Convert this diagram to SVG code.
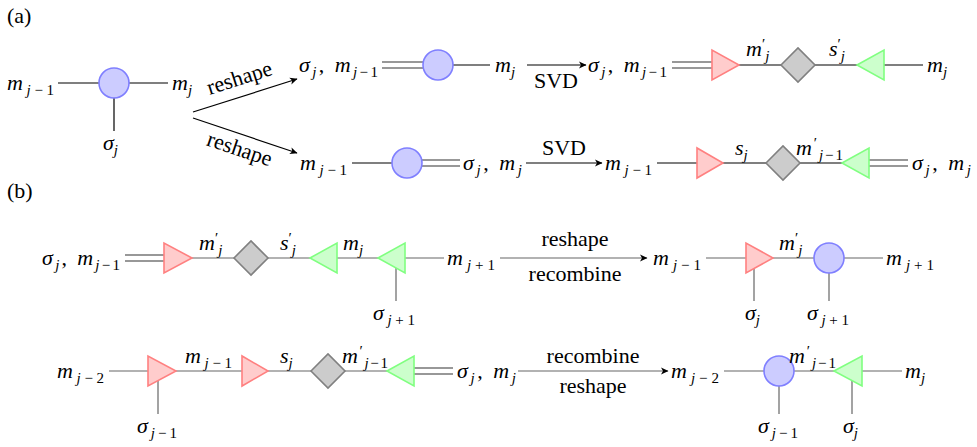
<svg xmlns="http://www.w3.org/2000/svg" width="977" height="447" viewBox="0 0 977 447" font-family="'Liberation Serif', Tinos, 'Times New Roman', 'Noto Serif', 'DejaVu Serif', serif">
<style>
text{font-size:22px;fill:#000}
.i{font-style:italic}
.sb{font-size:15px}
.c{text-anchor:middle}
.e{text-anchor:end}
.la line{stroke:#000;stroke-width:1.2;fill:none}
.lb line{stroke:#666;stroke-width:1.2;fill:none}
.la .dbl,.lb .dbl{stroke:#333}
.circ{fill:#ccccff;stroke:#7f7fff;stroke-width:1.6}
.red{fill:#ffcccc;stroke:#ff8080;stroke-width:1.6}
.grn{fill:#ccffcc;stroke:#80ff80;stroke-width:1.6}
.dia{fill:#cccccc;stroke:#808080;stroke-width:1.6}
</style>
<defs>
<marker id="ah" viewBox="-8 -4 9 8" refX="0" refY="0" markerWidth="9" markerHeight="8" orient="auto" markerUnits="userSpaceOnUse">
<path d="M0.5,0 L-7,-3.5 L-5,0 L-7,3.5 z" fill="#000"/>
</marker>
</defs>
<rect width="977" height="447" fill="#fff"/>
<text x="7" y="23">(a)</text>
<text x="7" y="198">(b)</text>

<g id="connectors">
<g class="la">
<line x1="58" y1="83" x2="99" y2="83"/>
<line x1="128" y1="83" x2="168" y2="83"/>
<line x1="114" y1="83" x2="114" y2="131"/>
<line x1="193" y1="112" x2="297" y2="79" marker-end="url(#ah)"/>
<line x1="193" y1="118" x2="297" y2="153" marker-end="url(#ah)"/>
<line class="dbl" x1="382" y1="62" x2="423" y2="62"/>
<line class="dbl" x1="382" y1="68" x2="423" y2="68"/>
<line x1="453" y1="65" x2="490" y2="65"/>
<line x1="527" y1="65" x2="586" y2="65" marker-end="url(#ah)"/>
<line class="dbl" x1="672" y1="62" x2="712" y2="62"/>
<line class="dbl" x1="672" y1="68" x2="712" y2="68"/>
<line x1="739" y1="65" x2="781" y2="65"/>
<line x1="815" y1="65" x2="857" y2="65"/>
<line x1="884" y1="65" x2="923" y2="65"/>
<line x1="352" y1="163" x2="392" y2="163"/>
<line class="dbl" x1="422" y1="160" x2="460" y2="160"/>
<line class="dbl" x1="422" y1="166" x2="460" y2="166"/>
<line x1="526" y1="163" x2="602" y2="163" marker-end="url(#ah)"/>
<line x1="657" y1="163" x2="697" y2="163"/>
<line x1="723" y1="163" x2="766" y2="163"/>
<line x1="800" y1="163" x2="842" y2="163"/>
<line class="dbl" x1="869" y1="160" x2="908" y2="160"/>
<line class="dbl" x1="869" y1="166" x2="908" y2="166"/>
</g>
<g class="lb">
<line class="dbl" x1="125" y1="255" x2="164" y2="255"/>
<line class="dbl" x1="125" y1="261" x2="164" y2="261"/>
<line x1="192" y1="258" x2="234" y2="258"/>
<line x1="268" y1="258" x2="310" y2="258"/>
<line x1="337" y1="258" x2="378" y2="258"/>
<line x1="396" y1="258" x2="396" y2="301"/>
<line x1="405" y1="258" x2="444" y2="258"/>
<line x1="500" y1="258" x2="647" y2="258" marker-end="url(#ah)"/>
<line x1="706" y1="258" x2="746" y2="258"/>
<line x1="754" y1="258" x2="754" y2="301"/>
<line x1="773" y1="258" x2="814" y2="258"/>
<line x1="829" y1="258" x2="829" y2="301"/>
<line x1="843" y1="258" x2="883" y2="258"/>
<line x1="109" y1="371" x2="148" y2="371"/>
<line x1="158" y1="371" x2="158" y2="414"/>
<line x1="176" y1="371" x2="242" y2="371"/>
<line x1="268" y1="371" x2="311" y2="371"/>
<line x1="345" y1="371" x2="387" y2="371"/>
<line class="dbl" x1="414" y1="368" x2="453" y2="368"/>
<line class="dbl" x1="414" y1="374" x2="453" y2="374"/>
<line x1="518" y1="371" x2="668" y2="371" marker-end="url(#ah)"/>
<line x1="724" y1="371" x2="764" y2="371"/>
<line x1="779" y1="371" x2="779" y2="414"/>
<line x1="794" y1="371" x2="834" y2="371"/>
<line x1="852" y1="371" x2="852" y2="414"/>
<line x1="862" y1="371" x2="902" y2="371"/>
</g>
</g>

<g id="arrow-labels">
<text class="c" transform="translate(240,80) rotate(-17.6)" y="5">reshape</text>
<text class="c" transform="translate(239,151) rotate(18.6)" y="5">reshape</text>
<text class="c" x="556" y="88">SVD</text>
<text class="c" x="564" y="155">SVD</text>
<text class="c" x="575" y="246">reshape</text>
<text class="c" x="575" y="281">recombine</text>
<text class="c" x="593" y="363">recombine</text>
<text class="c" x="593" y="393">reshape</text>
</g>

<g id="a0">
<g id="a0-A"><circle class="circ" cx="114" cy="83" r="15"/></g>
<text class="e" x="54" y="90" textLength="47"><tspan class="i">m</tspan><tspan class="sb" dy="5"><tspan class="i">j</tspan>−1</tspan></text>
<text x="172" y="90"><tspan class="i">m</tspan><tspan class="sb i" dy="5">j</tspan></text>
<text x="103" y="150"><tspan class="i">σ</tspan><tspan class="sb i" dy="5">j</tspan></text>
</g>

<g id="a1">
<text x="299" y="72" textLength="79"><tspan class="i">σ</tspan><tspan class="sb i" dy="5">j</tspan><tspan dy="-5">, </tspan><tspan class="i">m</tspan><tspan class="sb" dy="5"><tspan class="i">j</tspan>−1</tspan></text>
<g id="a1-A"><circle class="circ" cx="438" cy="65" r="15"/></g>
<text x="495" y="72"><tspan class="i">m</tspan><tspan class="sb i" dy="5">j</tspan></text>
<text x="588" y="72" textLength="79"><tspan class="i">σ</tspan><tspan class="sb i" dy="5">j</tspan><tspan dy="-5">, </tspan><tspan class="i">m</tspan><tspan class="sb" dy="5"><tspan class="i">j</tspan>−1</tspan></text>
<g id="a1-U"><polygon class="red" points="712,50 712,80 739,65"/></g>
<g id="a1-S"><polygon class="dia" points="781,65 798,48 815,65 798,82"/></g>
<g id="a1-V"><polygon class="grn" points="857,65 884,50 884,80"/></g>
<text x="927" y="72"><tspan class="i">m</tspan><tspan class="sb i" dy="5">j</tspan></text>
<text x="746" y="56"><tspan class="i">m</tspan><tspan class="sb" dy="-7">′</tspan><tspan class="sb i" dy="12">j</tspan></text>
<text x="829" y="56"><tspan class="i">s</tspan><tspan class="sb" dy="-7">′</tspan><tspan class="sb i" dy="12">j</tspan></text>
</g>

<g id="a2">
<text class="e" x="347" y="170" textLength="47"><tspan class="i">m</tspan><tspan class="sb" dy="5"><tspan class="i">j</tspan>−1</tspan></text>
<g id="a2-A"><circle class="circ" cx="407" cy="163" r="15"/></g>
<text x="463" y="170" textLength="59"><tspan class="i">σ</tspan><tspan class="sb i" dy="5">j</tspan><tspan dy="-5">, </tspan><tspan class="i">m</tspan><tspan class="sb i" dy="5">j</tspan></text>
<text x="605" y="170" textLength="47"><tspan class="i">m</tspan><tspan class="sb" dy="5"><tspan class="i">j</tspan>−1</tspan></text>
<g id="a2-U"><polygon class="red" points="697,148 697,178 723,163"/></g>
<g id="a2-S"><polygon class="dia" points="766,163 783,146 800,163 783,180"/></g>
<g id="a2-V"><polygon class="grn" points="842,163 869,148 869,178"/></g>
<text x="912" y="170" textLength="59"><tspan class="i">σ</tspan><tspan class="sb i" dy="5">j</tspan><tspan dy="-5">, </tspan><tspan class="i">m</tspan><tspan class="sb i" dy="5">j</tspan></text>
<text x="735" y="155"><tspan class="i">s</tspan><tspan class="sb i" dy="5">j</tspan></text>
<text x="796" y="155" textLength="47"><tspan class="i">m</tspan><tspan class="sb" dy="-7">′</tspan><tspan class="sb" dy="12"><tspan class="i">j</tspan>−1</tspan></text>
</g>

<g id="b1">
<text class="e" x="120" y="265" textLength="78"><tspan class="i">σ</tspan><tspan class="sb i" dy="5">j</tspan><tspan dy="-5">, </tspan><tspan class="i">m</tspan><tspan class="sb" dy="5"><tspan class="i">j</tspan>−1</tspan></text>
<g id="b1-U"><polygon class="red" points="164,243 164,273 192,258"/></g>
<g id="b1-S"><polygon class="dia" points="234,258 251,241 268,258 251,275"/></g>
<g id="b1-V"><polygon class="grn" points="310,258 337,243 337,273"/></g>
<g id="b1-B"><polygon class="grn" points="378,258 405,243 405,273"/></g>
<text x="447" y="265" textLength="48"><tspan class="i">m</tspan><tspan class="sb" dy="5"><tspan class="i">j</tspan>+1</tspan></text>
<text x="373" y="320" textLength="42"><tspan class="i">σ</tspan><tspan class="sb" dy="5"><tspan class="i">j</tspan>+1</tspan></text>
<text x="199" y="250"><tspan class="i">m</tspan><tspan class="sb" dy="-7">′</tspan><tspan class="sb i" dy="12">j</tspan></text>
<text x="280" y="250"><tspan class="i">s</tspan><tspan class="sb" dy="-7">′</tspan><tspan class="sb i" dy="12">j</tspan></text>
<text x="343" y="250"><tspan class="i">m</tspan><tspan class="sb i" dy="5">j</tspan></text>
<text x="653" y="265" textLength="48"><tspan class="i">m</tspan><tspan class="sb" dy="5"><tspan class="i">j</tspan>−1</tspan></text>
<g id="b1-U2"><polygon class="red" points="746,243 746,273 773,258"/></g>
<g id="b1-A"><circle class="circ" cx="829" cy="258" r="15"/></g>
<text x="886" y="265" textLength="48"><tspan class="i">m</tspan><tspan class="sb" dy="5"><tspan class="i">j</tspan>+1</tspan></text>
<text x="779" y="250"><tspan class="i">m</tspan><tspan class="sb" dy="-7">′</tspan><tspan class="sb i" dy="12">j</tspan></text>
<text x="745" y="320"><tspan class="i">σ</tspan><tspan class="sb i" dy="5">j</tspan></text>
<text x="807" y="320" textLength="42"><tspan class="i">σ</tspan><tspan class="sb" dy="5"><tspan class="i">j</tspan>+1</tspan></text>
</g>

<g id="b2">
<text class="e" x="104" y="378" textLength="47"><tspan class="i">m</tspan><tspan class="sb" dy="5"><tspan class="i">j</tspan>−2</tspan></text>
<g id="b2-U1"><polygon class="red" points="148,356 148,386 176,371"/></g>
<text x="137" y="433" textLength="40"><tspan class="i">σ</tspan><tspan class="sb" dy="5"><tspan class="i">j</tspan>−1</tspan></text>
<text x="185" y="363" textLength="47"><tspan class="i">m</tspan><tspan class="sb" dy="5"><tspan class="i">j</tspan>−1</tspan></text>
<g id="b2-U2"><polygon class="red" points="242,356 242,386 268,371"/></g>
<text x="280" y="363"><tspan class="i">s</tspan><tspan class="sb i" dy="5">j</tspan></text>
<g id="b2-S"><polygon class="dia" points="311,371 328,354 345,371 328,388"/></g>
<text x="342" y="363" textLength="46"><tspan class="i">m</tspan><tspan class="sb" dy="-7">′</tspan><tspan class="sb" dy="12"><tspan class="i">j</tspan>−1</tspan></text>
<g id="b2-V"><polygon class="grn" points="387,371 414,356 414,386"/></g>
<text x="457" y="378" textLength="59"><tspan class="i">σ</tspan><tspan class="sb i" dy="5">j</tspan><tspan dy="-5">, </tspan><tspan class="i">m</tspan><tspan class="sb i" dy="5">j</tspan></text>
<text x="671" y="378" textLength="48"><tspan class="i">m</tspan><tspan class="sb" dy="5"><tspan class="i">j</tspan>−2</tspan></text>
<g id="b2-A"><circle class="circ" cx="779" cy="371" r="15"/></g>
<text x="789" y="363" textLength="47"><tspan class="i">m</tspan><tspan class="sb" dy="-7">′</tspan><tspan class="sb" dy="12"><tspan class="i">j</tspan>−1</tspan></text>
<g id="b2-B"><polygon class="grn" points="834,371 862,356 862,386"/></g>
<text x="905" y="378"><tspan class="i">m</tspan><tspan class="sb i" dy="5">j</tspan></text>
<text x="758" y="433" textLength="40"><tspan class="i">σ</tspan><tspan class="sb" dy="5"><tspan class="i">j</tspan>−1</tspan></text>
<text x="843" y="433"><tspan class="i">σ</tspan><tspan class="sb i" dy="5">j</tspan></text>
</g>
</svg>
